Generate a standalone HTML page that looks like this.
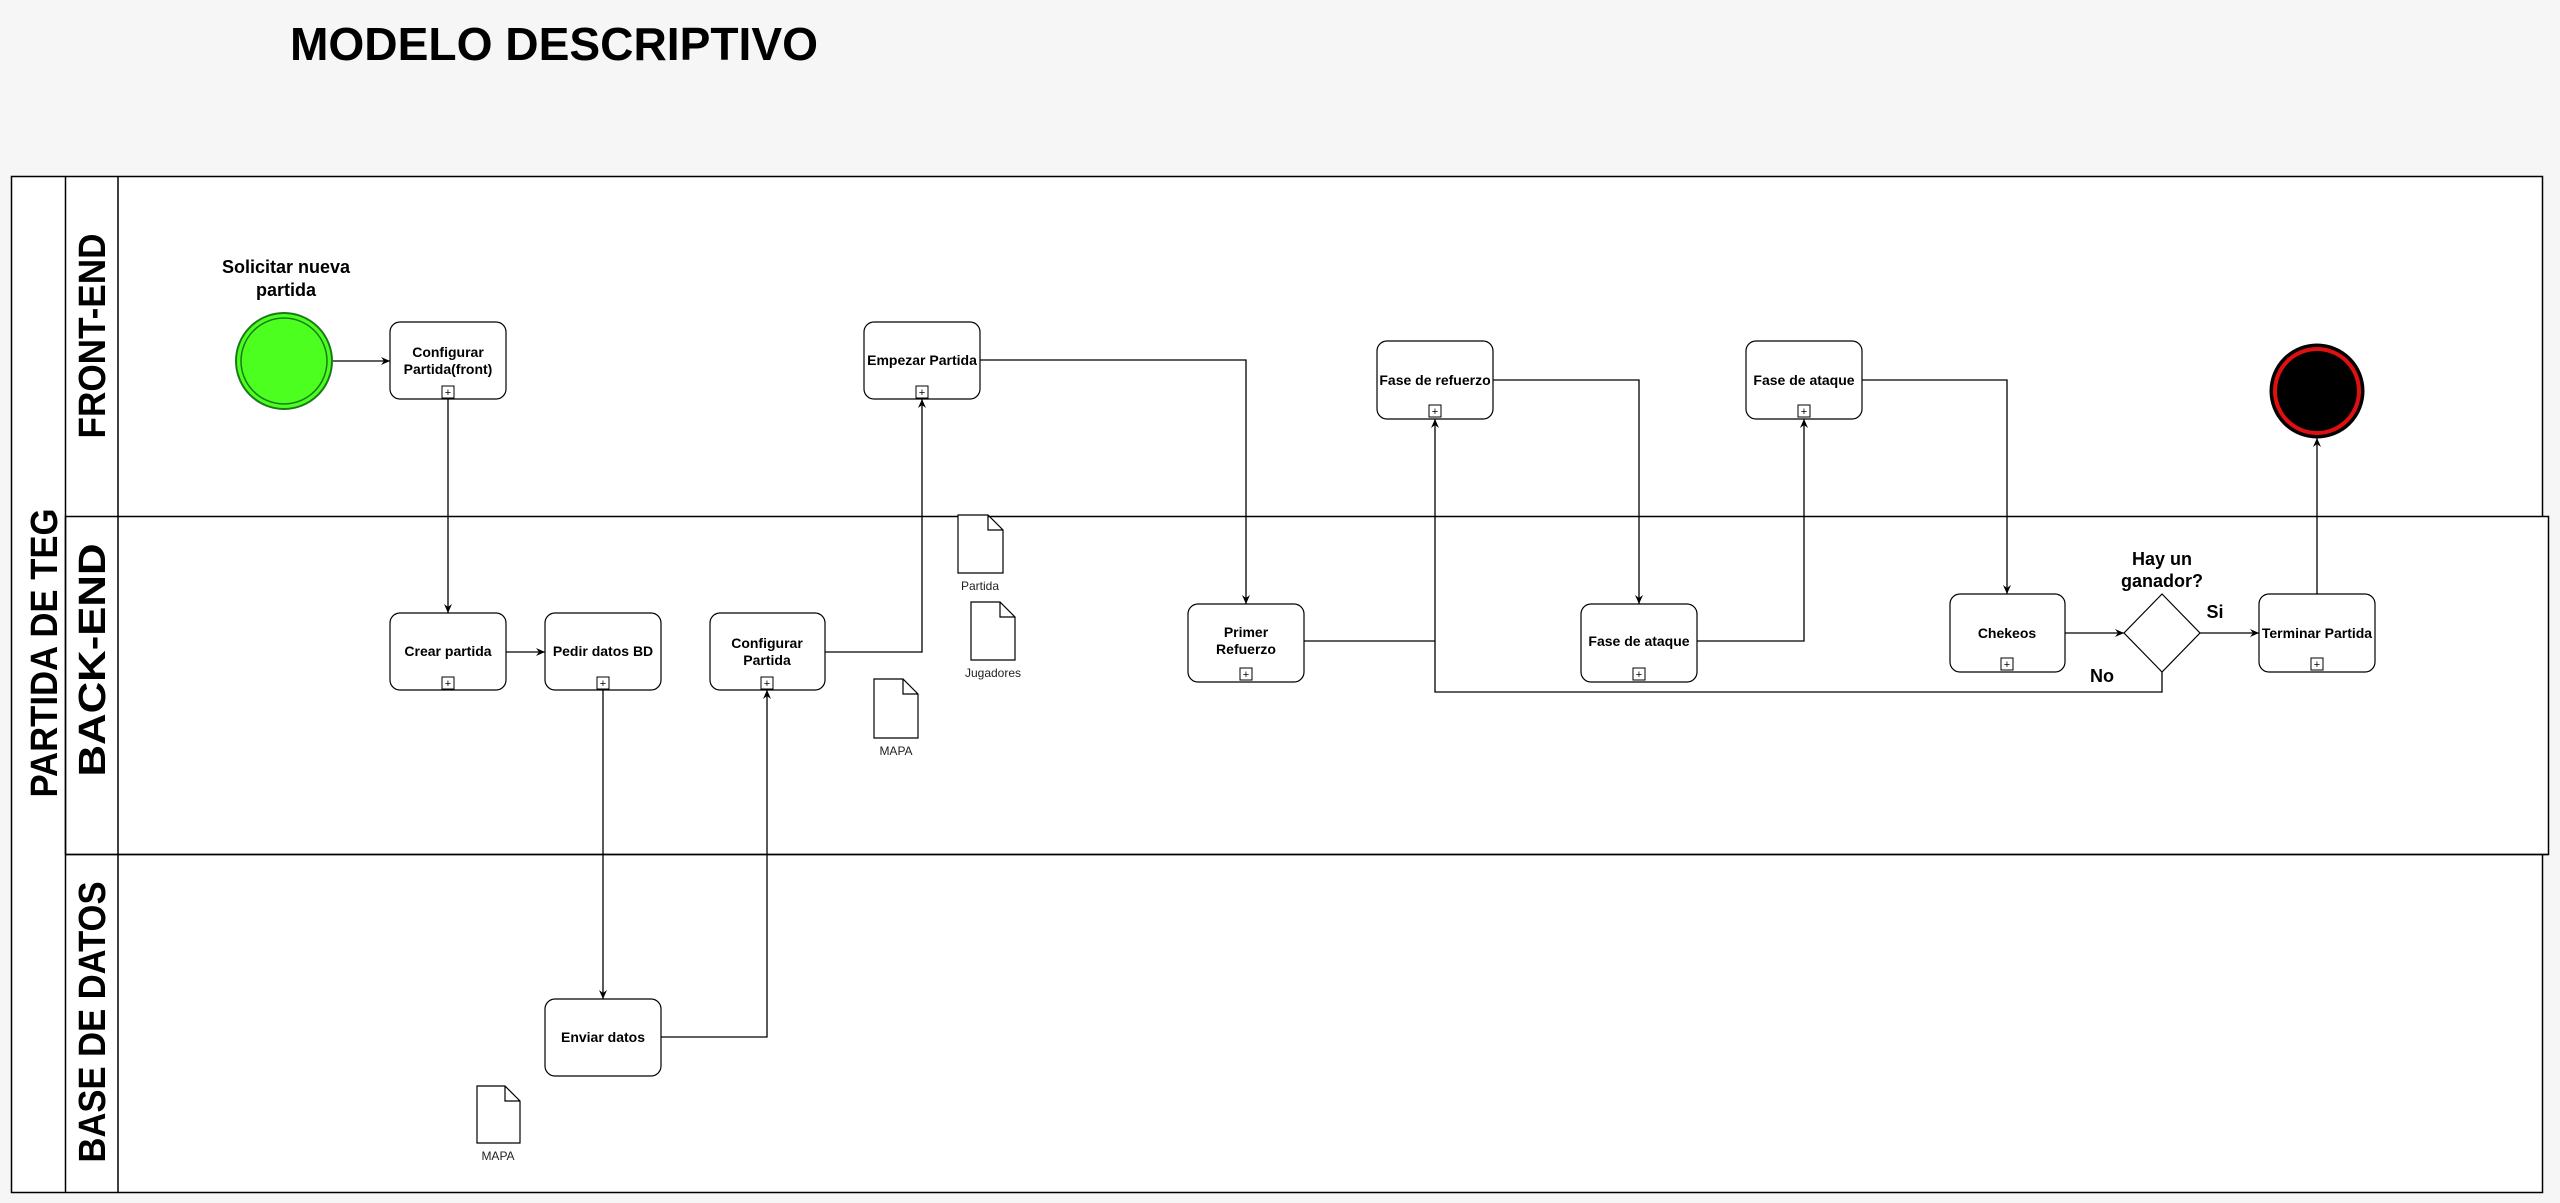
<!DOCTYPE html>
<html><head><meta charset="utf-8"><style>html,body{margin:0;padding:0;background:#f6f6f6}svg{display:block}</style></head>
<body>
<svg xmlns="http://www.w3.org/2000/svg" width="2560" height="1203" viewBox="0 0 2560 1203" font-family="Liberation Sans, Arial, sans-serif">
<defs>
<marker id="a" markerWidth="10" markerHeight="10" refX="9" refY="5" orient="auto" markerUnits="userSpaceOnUse"><path d="M0,1 L9,5 L0,9 L3,5 Z" fill="#000"/></marker>
</defs>
<rect width="2560" height="1203" fill="#f6f6f6"/>
<text x="290" y="60" font-size="46" font-weight="bold" textLength="528" lengthAdjust="spacingAndGlyphs">MODELO DESCRIPTIVO</text>
<rect x="11.5" y="176.5" width="2531" height="1016" fill="#fff" stroke="#000" stroke-width="1.5"/>
<rect x="65.5" y="516.5" width="2483" height="338" fill="#fff" stroke="#000" stroke-width="1.5"/>
<line x1="65.5" y1="176" x2="65.5" y2="1193" stroke="#000" stroke-width="1.5"/>
<line x1="118" y1="176" x2="118" y2="1193" stroke="#000" stroke-width="1.5"/>
<line x1="65" y1="854.5" x2="2548" y2="854.5" stroke="#000" stroke-width="1.5"/>
<g font-weight="bold" font-size="38">
<text transform="translate(57,653) rotate(-90)" text-anchor="middle" textLength="289" lengthAdjust="spacingAndGlyphs">PARTIDA DE TEG</text>
<text transform="translate(105,336) rotate(-90)" text-anchor="middle" textLength="205" lengthAdjust="spacingAndGlyphs">FRONT-END</text>
<text transform="translate(105,660) rotate(-90)" text-anchor="middle" textLength="233" lengthAdjust="spacingAndGlyphs">BACK-END</text>
<text transform="translate(105,1022) rotate(-90)" text-anchor="middle" textLength="281" lengthAdjust="spacingAndGlyphs">BASE DE DATOS</text>
</g>
<g fill="none" stroke="#000" stroke-width="1.3" marker-end="url(#a)">
<path d="M333,361 H390"/>
<path d="M448,399 V613"/>
<path d="M506,652 H545"/>
<path d="M603,690 V999"/>
<path d="M661,1037 H767 V690"/>
<path d="M825,652 H922 V399"/>
<path d="M980,360 H1246 V604"/>
<path d="M1303,641 H1435 V419"/>
<path d="M1493,380 H1639 V604"/>
<path d="M1697,641 H1804 V419"/>
<path d="M1861,380 H2007 V594"/>
<path d="M2065,633 H2124"/>
<path d="M2200,633 H2259"/>
<path d="M2317,594 V438"/>
</g>
<path d="M2162,672 V692 H1435 V641" fill="none" stroke="#000" stroke-width="1.3"/>
<circle cx="284" cy="361" r="48" fill="#4cff1f" stroke="#1a7a1a" stroke-width="2"/>
<circle cx="284" cy="361" r="43" fill="none" stroke="#1a7a1a" stroke-width="1.5"/>
<circle cx="2317" cy="391" r="46" fill="#000" stroke="#000" stroke-width="3"/>
<circle cx="2317" cy="391" r="42" fill="#000" stroke="#e01010" stroke-width="4"/>
<text x="286" y="273" font-size="18" font-weight="bold" text-anchor="middle">Solicitar nueva</text>
<text x="286" y="296" font-size="18" font-weight="bold" text-anchor="middle">partida</text>
<g font-size="14" font-weight="bold" text-anchor="middle">
<rect x="390" y="322" width="116" height="77" rx="10" fill="#fff" stroke="#000" stroke-width="1.2"/>
<text x="448" y="357">Configurar</text><text x="448" y="374">Partida(front)</text>
<rect x="864" y="322" width="116" height="77" rx="10" fill="#fff" stroke="#000" stroke-width="1.2"/>
<text x="922" y="365">Empezar Partida</text>
<rect x="390" y="613" width="116" height="77" rx="10" fill="#fff" stroke="#000" stroke-width="1.2"/>
<text x="448" y="656">Crear partida</text>
<rect x="545" y="613" width="116" height="77" rx="10" fill="#fff" stroke="#000" stroke-width="1.2"/>
<text x="603" y="656">Pedir datos BD</text>
<rect x="710" y="613" width="115" height="77" rx="10" fill="#fff" stroke="#000" stroke-width="1.2"/>
<text x="767" y="648">Configurar</text><text x="767" y="665">Partida</text>
<rect x="545" y="999" width="116" height="77" rx="10" fill="#fff" stroke="#000" stroke-width="1.2"/>
<text x="603" y="1042">Enviar datos</text>
<rect x="1188" y="604" width="116" height="78" rx="10" fill="#fff" stroke="#000" stroke-width="1.2"/>
<text x="1246" y="637">Primer</text><text x="1246" y="654">Refuerzo</text>
<rect x="1377" y="341" width="116" height="78" rx="10" fill="#fff" stroke="#000" stroke-width="1.2"/>
<text x="1435" y="385">Fase de refuerzo</text>
<rect x="1746" y="341" width="116" height="78" rx="10" fill="#fff" stroke="#000" stroke-width="1.2"/>
<text x="1804" y="385">Fase de ataque</text>
<rect x="1581" y="604" width="116" height="78" rx="10" fill="#fff" stroke="#000" stroke-width="1.2"/>
<text x="1639" y="646">Fase de ataque</text>
<rect x="1950" y="594" width="115" height="78" rx="10" fill="#fff" stroke="#000" stroke-width="1.2"/>
<text x="2007" y="638">Chekeos</text>
<rect x="2259" y="594" width="116" height="78" rx="10" fill="#fff" stroke="#000" stroke-width="1.2"/>
<text x="2317" y="638">Terminar Partida</text>
</g>
<g fill="#fff" stroke="#000" stroke-width="1">
<rect x="442" y="386" width="12" height="12"/><rect x="916" y="386" width="12" height="12"/>
<rect x="442" y="677" width="12" height="12"/><rect x="597" y="677" width="12" height="12"/>
<rect x="761" y="677" width="12" height="12"/><rect x="1240" y="668" width="12" height="12"/>
<rect x="1429" y="405" width="12" height="12"/><rect x="1798" y="405" width="12" height="12"/>
<rect x="1633" y="668" width="12" height="12"/><rect x="2001" y="658" width="12" height="12"/>
<rect x="2311" y="658" width="12" height="12"/>
</g>
<g font-size="11" text-anchor="middle">
<text x="448" y="396">+</text><text x="922" y="396">+</text><text x="448" y="687">+</text><text x="603" y="687">+</text><text x="767" y="687">+</text><text x="1246" y="678">+</text><text x="1435" y="415">+</text><text x="1804" y="415">+</text><text x="1639" y="678">+</text><text x="2007" y="668">+</text><text x="2317" y="668">+</text>
</g>
<path d="M2162,594 L2200,633 L2162,672 L2124,633 Z" fill="#fff" stroke="#000" stroke-width="1.2"/>
<g font-size="18" font-weight="bold" text-anchor="middle">
<text x="2162" y="565">Hay un</text><text x="2162" y="587">ganador?</text>
<text x="2215" y="618">Si</text><text x="2102" y="682">No</text>
</g>
<g fill="#fff" stroke="#000" stroke-width="1.2">
<path d="M958,515 H988 L1003,530 V573 H958 Z M988,515 V530 H1003"/>
<path d="M971,602 H1000 L1015,617 V660 H971 Z M1000,602 V617 H1015"/>
<path d="M874,679 H903 L918,694 V738 H874 Z M903,679 V694 H918"/>
<path d="M477,1086 H505 L520,1101 V1143 H477 Z M505,1086 V1101 H520"/>
</g>
<g font-size="12" text-anchor="middle" fill="#222">
<text x="980" y="590">Partida</text><text x="993" y="677">Jugadores</text>
<text x="896" y="755">MAPA</text><text x="498" y="1160">MAPA</text>
</g>
</svg>
</body></html>
